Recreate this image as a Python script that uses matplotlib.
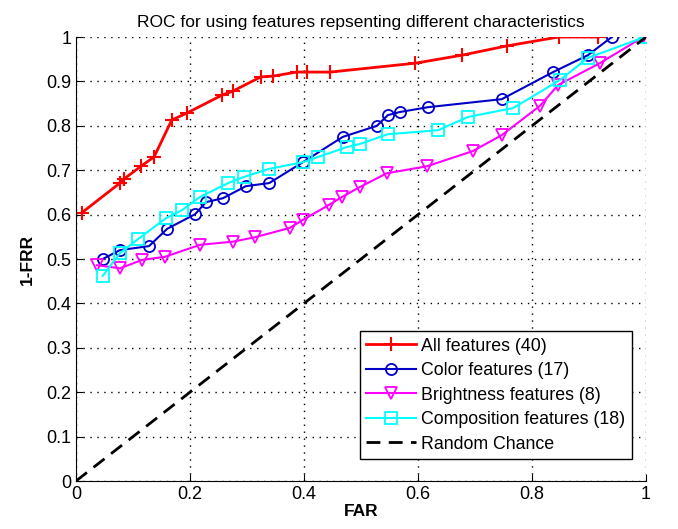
import numpy as np
import matplotlib.pyplot as plt

plt.rcParams['font.family'] = ['Liberation Sans', 'DejaVu Sans']

# ROC points (FAR, 1-FRR) per feature set
all_far = [0.01, 0.077, 0.084, 0.114, 0.137, 0.168, 0.195, 0.256, 0.275, 0.324,
           0.346, 0.387, 0.405, 0.446, 0.595, 0.677, 0.756, 0.847, 0.916]
all_tpr = [0.604, 0.671, 0.68, 0.709, 0.73, 0.813, 0.829, 0.869, 0.878, 0.91,
           0.912, 0.921, 0.921, 0.921, 0.941, 0.959, 0.98, 1.0, 1.0]

color_far = [0.047, 0.077, 0.128, 0.16, 0.209, 0.228, 0.258, 0.298, 0.339, 0.398,
             0.468, 0.528, 0.547, 0.568, 0.618, 0.747, 0.837, 0.898, 0.94]
color_tpr = [0.5, 0.52, 0.529, 0.568, 0.601, 0.628, 0.637, 0.664, 0.671, 0.718,
             0.775, 0.8, 0.824, 0.831, 0.842, 0.86, 0.921, 0.959, 1.0]

bright_far = [0.037, 0.077, 0.116, 0.156, 0.218, 0.275, 0.314, 0.375, 0.398, 0.444,
              0.467, 0.498, 0.545, 0.616, 0.696, 0.747, 0.814, 0.846, 0.919, 0.995]
bright_tpr = [0.486, 0.479, 0.498, 0.505, 0.532, 0.539, 0.549, 0.57, 0.588, 0.622,
              0.64, 0.662, 0.693, 0.709, 0.743, 0.779, 0.845, 0.892, 0.941, 1.0]

comp_far = [0.047, 0.077, 0.109, 0.158, 0.186, 0.218, 0.267, 0.295, 0.339, 0.398,
            0.425, 0.475, 0.498, 0.547, 0.635, 0.688, 0.767, 0.849, 0.898, 0.998]
comp_tpr = [0.462, 0.513, 0.545, 0.592, 0.61, 0.64, 0.671, 0.685, 0.703, 0.718,
            0.73, 0.752, 0.759, 0.781, 0.79, 0.82, 0.84, 0.903, 0.953, 1.0]

chance = [0, 1]

fig = plt.figure(figsize=(6.78, 5.29), dpi=100)
ax = fig.add_axes([76 / 678, 48 / 529, 570 / 678, 444 / 529])

ax.plot(all_far, all_tpr, color='#ff0000', marker='+', ms=10, mew=1.5, lw=2,
        label='All features (40)')
ax.plot(color_far, color_tpr, color='#0000c8', marker='o', ms=8, mfc='none',
        mew=1.3, lw=1.5, label='Color features (17)')
ax.plot(bright_far, bright_tpr, color='#ff00ff', marker='v', ms=9, mfc='none',
        mew=1.3, lw=1.5, label='Brightness features (8)')
ax.plot(comp_far, comp_tpr, color='#00ffff', marker='s', ms=8, mfc='none',
        mew=1.3, lw=1.5, label='Composition features (18)')
ax.plot(chance, chance, color='black', ls=(0, (5, 3)), lw=2, label='Random Chance')

ax.set_xlim(0, 1)
ax.set_ylim(0, 1)
ax.set_xticks(np.arange(0, 1.01, 0.2))
ax.set_yticks(np.arange(0, 1.01, 0.1))
ax.set_xticklabels(['0', '0.2', '0.4', '0.6', '0.8', '1'])
ax.set_yticklabels(['0', '0.1', '0.2', '0.3', '0.4', '0.5', '0.6', '0.7', '0.8', '0.9', '1'])
ax.tick_params(direction='in', labelsize=13, length=5, top=False, right=False)
ax.grid(True, color='black', ls=(0, (1, 4)), lw=1)
ax.spines['top'].set_visible(False)
ax.spines['right'].set_visible(False)
ax.set_axisbelow(True)

ax.set_xlabel('FAR', fontsize=12.5, fontweight='bold', labelpad=1)
ax.set_ylabel('1-FRR', fontsize=12.5, fontweight='bold', labelpad=8)
ax.set_title('ROC for using features repsenting different characteristics',
             fontsize=12.5, pad=7)

leg = ax.legend(loc='lower right', bbox_to_anchor=(0.975, 0.05), fontsize=12.8,
                fancybox=False, framealpha=1, edgecolor='black',
                handlelength=2.8, handletextpad=0.3, borderpad=0.35,
                labelspacing=0.42, borderaxespad=0)
leg.get_frame().set_linewidth(1)

fig.savefig('out.png', dpi=100)
